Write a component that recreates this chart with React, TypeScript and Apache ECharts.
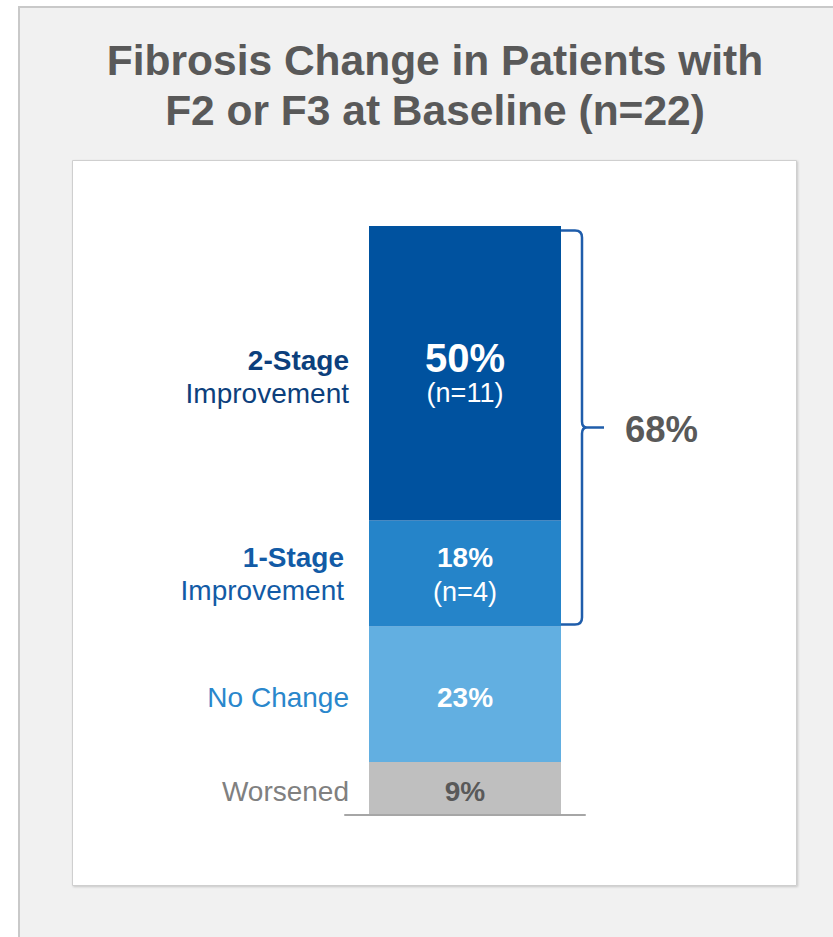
import React, { useEffect, useRef } from "react";
import * as echarts from "echarts";

// Fibrosis change categories, top of the stacked column first
const stageNames = ["2-Stage", "1-Stage", "No Change", "Worsened"];
const stageSubNames = ["Improvement", "Improvement", "", ""];
const stagePercents = [50, 18, 23, 9];
const stageCounts: (number | null)[] = [11, 4, null, null];
const improvedStages = ["2-Stage", "1-Stage"];

const titleLines = ["Fibrosis Change in Patients with", "F2 or F3 at Baseline (n=22)"];

const FONT = "'Liberation Sans', Arial, Helvetica, sans-serif";
const BAR_W = 192;
const barColors = ["#00529f", "#2584c9", "#62afe1", "#bfbfbf"];
const valueColors = ["#ffffff", "#ffffff", "#ffffff", "#595959"];
const nameColors = ["#0c3f7c", "#125ba6", "#2a87cc", "#808080"];
const valueSizes = [40, 28, 28, 28];
const nameDistances = [20, 25, 20, 20];
const nameOffsets = [[0, 4], [0, 0], [0, 3], [0, 3]];
const BRACKET_COLOR = "#1f5dab";

export default function App() {
  const ref = useRef<HTMLDivElement>(null);

  useEffect(() => {
    if (!ref.current) return;
    const chart = echarts.init(ref.current, undefined, { renderer: "svg" });

    const order = [3, 2, 1, 0]; // bottom of the stack first
    const valueSeries = order.map((i) => ({
      type: "bar",
      name: stageNames[i],
      stack: "share",
      barWidth: BAR_W,
      barGap: "-100%",
      data: [stagePercents[i]],
      itemStyle: { color: barColors[i] },
      z: 3,
      label: {
        show: true,
        position: "inside",
        offset: stageCounts[i] == null ? [0, 3] : [0, 1],
        formatter: () =>
          stageCounts[i] == null
            ? `{p|${stagePercents[i]}%}`
            : `{p|${stagePercents[i]}%}\n{n|(n=${stageCounts[i]})}`,
        rich: {
          p: {
            fontFamily: FONT,
            fontWeight: "bold",
            fontSize: valueSizes[i],
            lineHeight: i === 0 ? 38 : 34,
            color: valueColors[i],
            align: "center",
          },
          n: {
            fontFamily: FONT,
            fontSize: 27,
            lineHeight: i === 0 ? 32 : 34,
            color: valueColors[i],
            align: "center",
          },
        },
      },
    }));

    const nameSeries = order.map((i) => ({
      type: "bar",
      name: stageNames[i] + " label",
      stack: "names",
      barWidth: BAR_W,
      barGap: "-100%",
      data: [stagePercents[i]],
      itemStyle: { color: "rgba(0,0,0,0)" },
      z: 1,
      silent: true,
      label: {
        show: true,
        position: "left",
        distance: nameDistances[i],
        offset: nameOffsets[i],
        formatter: () =>
          stageSubNames[i]
            ? `{b|${stageNames[i]}}\n{r|${stageSubNames[i]}}`
            : `{r|${stageNames[i]}}`,
        rich: {
          b: {
            fontFamily: FONT,
            fontWeight: "bold",
            fontSize: 28,
            lineHeight: 33,
            color: nameColors[i],
            align: "right",
          },
          r: {
            fontFamily: FONT,
            fontSize: 28,
            lineHeight: 33,
            color: nameColors[i],
            align: "right",
          },
        },
      },
    }));

    // bracket spanning the improved stages
    const improvedIdx = improvedStages.map((s) => stageNames.indexOf(s));
    const improvedSum = improvedIdx.reduce((a, i) => a + stagePercents[i], 0);
    const totalSum = stagePercents.reduce((a, v) => a + v, 0);
    const bracketSeries = {
      type: "custom",
      name: "Improved",
      clip: false,
      z: 5,
      encode: { x: 0, y: [1, 2] },
      data: [[0, totalSum - improvedSum, totalSum, improvedSum]],
      renderItem: (_params: any, api: any) => {
        const top = api.coord([api.value(0), api.value(2)]);
        const bot = api.coord([api.value(0), api.value(1)]);
        const xEdge = top[0] + BAR_W / 2;
        const yTop = top[1] + 4.5;
        const yBot = bot[1] - 2;
        const xl = xEdge + 21;
        const mid = (yTop + yBot) / 2;
        const tip = xl + 22;
        const d = [
          `M ${xEdge} ${yTop}`,
          `L ${xl - 7} ${yTop}`,
          `Q ${xl} ${yTop} ${xl} ${yTop + 7}`,
          `L ${xl} ${mid - 6}`,
          `Q ${xl} ${mid} ${xl + 5} ${mid}`,
          `L ${tip} ${mid}`,
          `M ${xl + 5} ${mid}`,
          `Q ${xl} ${mid} ${xl} ${mid + 6}`,
          `L ${xl} ${yBot - 7}`,
          `Q ${xl} ${yBot} ${xl - 7} ${yBot}`,
          `L ${xEdge} ${yBot}`,
        ].join(" ");
        return {
          type: "group",
          children: [
            {
              type: "path",
              shape: { pathData: d },
              style: { fill: "none", stroke: BRACKET_COLOR, lineWidth: 2.5 },
            },
            {
              type: "text",
              style: {
                text: `${api.value(3)}%`,
                x: tip + 21,
                y: mid + 2,
                fill: "#595959",
                fontFamily: FONT,
                fontWeight: "bold",
                fontSize: 36.5,
                align: "left",
                verticalAlign: "middle",
              },
            },
          ],
        };
      },
    };

    chart.setOption({
      animation: false,
      backgroundColor: "#ffffff",
      graphic: [
        {
          type: "rect",
          z: -10,
          shape: { x: 19, y: 7, width: 900, height: 1000 },
          style: { fill: "#f1f1f1", stroke: "#c9c9c9", lineWidth: 2 },
        },
        {
          type: "rect",
          z: -9,
          shape: { x: 72.5, y: 160.5, width: 724, height: 725 },
          style: {
            fill: "#ffffff",
            stroke: "#cfcfcf",
            lineWidth: 1,
            shadowBlur: 2,
            shadowOffsetX: 1,
            shadowOffsetY: 1,
            shadowColor: "rgba(0,0,0,0.18)",
          },
        },
        ...titleLines.map((t, k) => ({
          type: "text",
          z: -8,
          style: {
            text: t,
            x: 435,
            y: 60 + k * 50,
            fill: "#595959",
            fontFamily: FONT,
            fontWeight: "bold",
            fontSize: 42.5,
            align: "center",
            verticalAlign: "middle",
          },
        })),
      ],
      grid: {
        left: 345,
        width: 240,
        top: 226,
        bottom: 122,
        outerBoundsMode: "none",
        containLabel: false,
      },
      xAxis: {
        type: "category",
        data: ["Patients"],
        axisLine: { show: true, lineStyle: { color: "#a6a6a6", width: 2 } },
        axisTick: { show: false },
        axisLabel: { show: false },
        splitLine: { show: false },
        z: 4,
      },
      yAxis: {
        type: "value",
        min: 0,
        max: 100,
        show: false,
        splitLine: { show: false },
      },
      series: [...nameSeries, ...valueSeries, bracketSeries],
    });

    return () => chart.dispose();
  }, []);

  return (
    <div
      ref={ref}
      style={{ position: "absolute", left: 0, top: 0, width: 833, height: 937 }}
    />
  );
}
